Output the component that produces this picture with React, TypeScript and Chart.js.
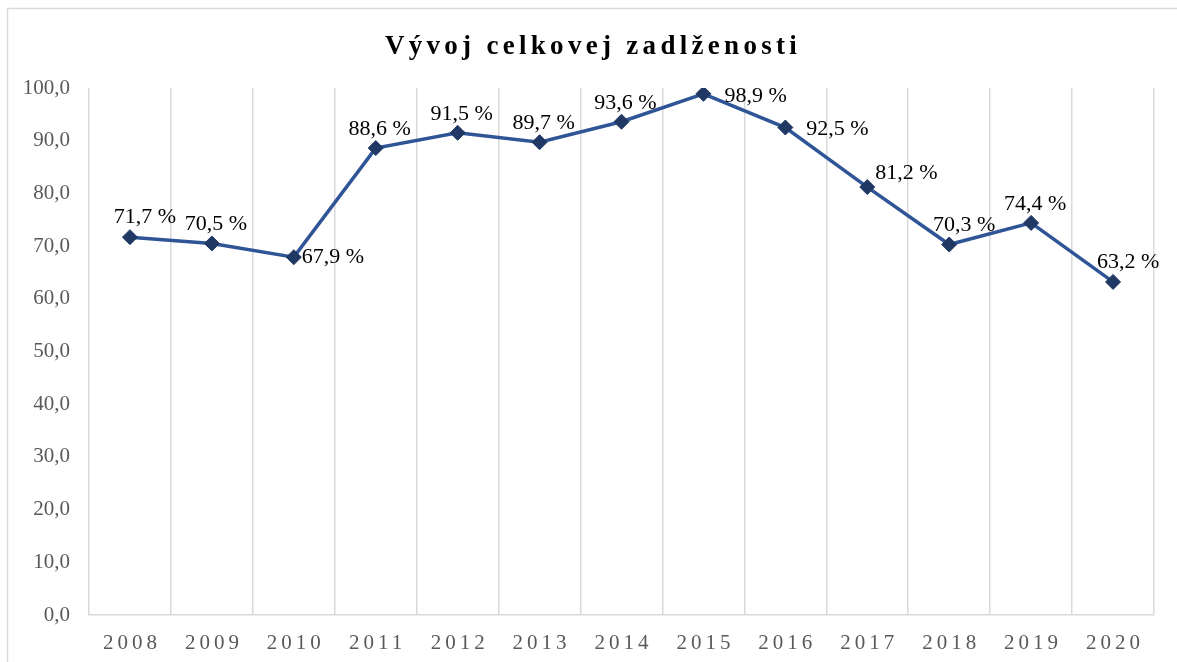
import React, { useEffect, useRef } from 'react';
import { Chart, registerables, CategoryScale } from 'chart.js';

Chart.register(...registerables);

// ---------- data ----------
const TITLE = 'Vývoj celkovej zadlženosti';
const YEARS = ['2008', '2009', '2010', '2011', '2012', '2013', '2014', '2015', '2016', '2017', '2018', '2019', '2020'];
const DEBT = [71.7, 70.5, 67.9, 88.6, 91.5, 89.7, 93.6, 98.9, 92.5, 81.2, 70.3, 74.4, 63.2];
const LABEL_PLACEMENT = ['topFar', 'top', 'right', 'top', 'top', 'top', 'top', 'rightFar', 'rightFar', 'topRight', 'topFar', 'top', 'topFar'];
const Y_MIN = 0;
const Y_MAX = 100;
const Y_STEP = 10;

const SERIF = '"Liberation Serif", "Times New Roman", serif';
const GRID = '#D9D9D9';
const LINE = '#2F5597';
const MARKER = '#1F3864';

class SpacedCategoryScale extends CategoryScale {
  static id = 'spacedCategory';
  static defaults = CategoryScale.defaults;
  drawLabels(chartArea: any) {
    const ctx = (this as any).ctx as CanvasRenderingContext2D;
    ctx.save();
    (ctx as any).letterSpacing = '4px';
    ctx.translate(2, 0);
    super.drawLabels(chartArea);
    ctx.restore();
  }
}
Chart.register(SpacedCategoryScale as any);

const frame = {
  id: 'frame',
  beforeDraw(chart: any) {
    const ctx = chart.ctx as CanvasRenderingContext2D;
    ctx.save();
    ctx.fillStyle = '#FFFFFF';
    ctx.fillRect(0, 0, chart.width, chart.height);
    ctx.strokeStyle = GRID;
    ctx.lineWidth = 1.5;
    ctx.beginPath();
    ctx.moveTo(7.5, chart.height);
    ctx.lineTo(7.5, 8.5);
    ctx.lineTo(chart.width, 8.5);
    ctx.stroke();
    ctx.restore();
    const tb = chart.titleBlock;
    if (tb && !tb.__spaced) {
      const orig = tb.draw.bind(tb);
      tb.draw = (...args: any[]) => {
        const c = chart.ctx;
        c.save();
        c.letterSpacing = '4.3px';
        c.translate(16, 1);
        orig(...args);
        c.restore();
      };
      tb.__spaced = true;
    }
  },
};

const valueLabels = {
  id: 'valueLabels',
  afterDatasetsDraw(chart: any) {
    const ctx = chart.ctx as CanvasRenderingContext2D;
    const meta = chart.getDatasetMeta(0);
    ctx.save();
    ctx.font = `22px ${SERIF}`;
    ctx.fillStyle = '#000000';
    meta.data.forEach((pt: any, i: number) => {
      const v = DEBT[i];
      const text = `${v.toFixed(1).replace('.', ',')} %`;
      const place = LABEL_PLACEMENT[i];
      const x = pt.x;
      const y = pt.y;
      if (place === 'top') {
        ctx.textAlign = 'center';
        ctx.textBaseline = 'alphabetic';
        ctx.fillText(text, x + 4, y - 13);
      } else if (place === 'topFar') {
        ctx.textAlign = 'center';
        ctx.textBaseline = 'alphabetic';
        ctx.fillText(text, x + 15, y - 14);
      } else if (place === 'right') {
        ctx.textAlign = 'left';
        ctx.textBaseline = 'middle';
        ctx.fillText(text, x + 8, y);
      } else if (place === 'rightFar') {
        ctx.textAlign = 'left';
        ctx.textBaseline = 'middle';
        ctx.fillText(text, x + 21, y + 2);
      } else {
        ctx.textAlign = 'left';
        ctx.textBaseline = 'alphabetic';
        ctx.fillText(text, x + 8, y - 8);
      }
    });
    ctx.restore();
  },
};

export default function App() {
  const ref = useRef<HTMLCanvasElement | null>(null);

  useEffect(() => {
    document.body.style.margin = '0';
    if (!ref.current) return;
    const chart = new Chart(ref.current, {
      type: 'line',
      data: {
        labels: YEARS,
        datasets: [
          {
            label: TITLE,
            data: DEBT,
            borderColor: LINE,
            borderWidth: 3.5,
            pointStyle: 'rectRot',
            pointRadius: 7.5,
            pointHoverRadius: 7.5,
            pointBackgroundColor: MARKER,
            pointBorderColor: MARKER,
            pointBorderWidth: 1,
            tension: 0,
          },
        ],
      },
      options: {
        animation: false,
        responsive: false,
        maintainAspectRatio: false,
        layout: { padding: { left: 0, right: 23, top: 0, bottom: 0 } },
        plugins: {
          legend: { display: false },
          tooltip: { enabled: false },
          title: {
            display: true,
            text: TITLE,
            color: '#000000',
            font: { family: SERIF, size: 27, weight: 'bold', lineHeight: 1.2 },
            padding: { top: 30, bottom: 25.6 },
          },
        },
        scales: {
          x: {
            type: 'spacedCategory' as any,
            offset: true,
            grid: { display: true, offset: true, color: GRID, lineWidth: 1.5, drawTicks: false },
            border: { display: true, color: GRID, width: 1.5 },
            ticks: { color: '#595959', font: { family: SERIF, size: 21 }, padding: 16, maxRotation: 0, autoSkip: false },
            afterFit: (s: any) => { s.height = 47; },
          },
          y: {
            min: Y_MIN,
            max: Y_MAX,
            grid: { display: false, drawTicks: false },
            border: { display: false },
            ticks: {
              stepSize: Y_STEP,
              color: '#595959',
              font: { family: SERIF, size: 21 },
              padding: 19,
              callback: (v: any) => Number(v).toFixed(1).replace('.', ','),
            },
            afterFit: (s: any) => { s.width = 89; },
          },
        },
      },
      plugins: [frame, valueLabels],
    });
    return () => chart.destroy();
  }, []);

  return (
    <div style={{ position: 'fixed', left: 0, top: 0, width: 1177, height: 662, background: '#fff' }}>
      <canvas ref={ref} width={1177} height={662} style={{ width: 1177, height: 662, display: 'block' }} />
    </div>
  );
}
